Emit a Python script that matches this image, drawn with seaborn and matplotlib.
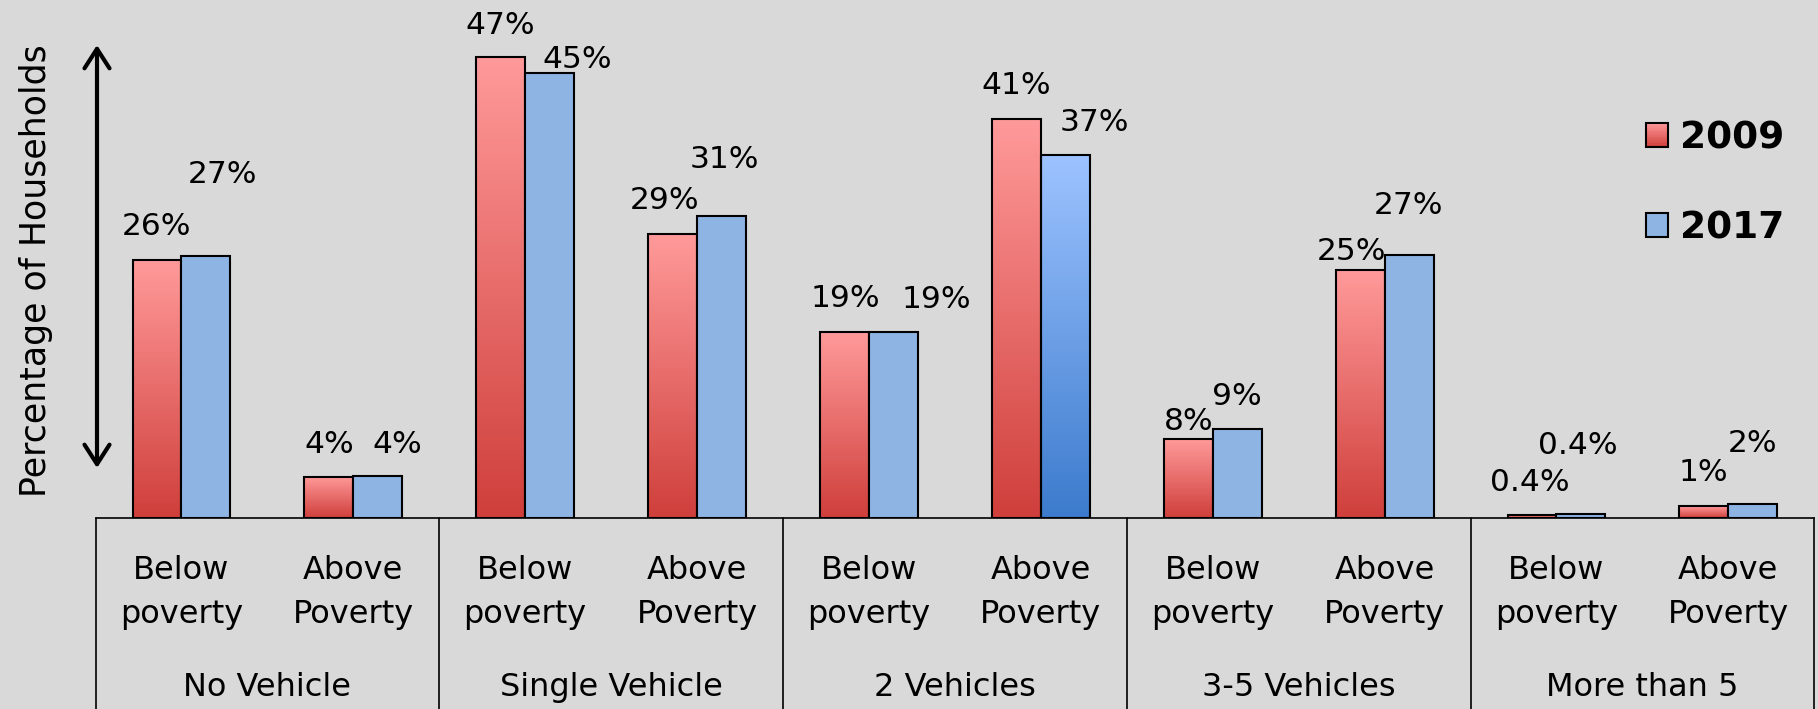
import numpy as np
import pandas as pd
import matplotlib
matplotlib.use("Agg")
import matplotlib.pyplot as plt
import seaborn as sns
from matplotlib.colors import to_rgb
from matplotlib.patches import Rectangle
from matplotlib.legend_handler import HandlerBase

# ---------------- data ----------------
groups = ["No Vehicle", "Single Vehicle", "2 Vehicles", "3-5 Vehicles", "More than 5"]
poverty = ["Below\npoverty", "Above\nPoverty"]
years = ["2009", "2017"]
values_2009 = [26.3, 4.2, 47.0, 28.9, 18.9, 40.7, 8.0, 25.3, 0.3, 1.2]
values_2017 = [26.7, 4.3, 45.4, 30.8, 18.9, 37.0, 9.1, 26.8, 0.4, 1.4]
labels_2009 = ["26%", "4%", "47%", "29%", "19%", "41%", "8%", "25%", "0.4%", "1%"]
labels_2017 = ["27%", "4%", "45%", "31%", "19%", "37%", "9%", "27%", "0.4%", "2%"]
y_label = "Percentage of Households"

# ---------------- style ----------------
W, H = 1818, 709
BG = "#d9d9d9"
RED_TOP, RED_BOT = np.array(to_rgb("#ff9a9a")), np.array(to_rgb("#cf3f3b"))
BLUE = "#8eb4e3"
BLUE_TOP, BLUE_BOT = np.array(to_rgb("#9dc3ff")), np.array(to_rgb("#3c7bcd"))
BLUE_GRADIENT_SLOTS = [5]
# label offsets in pixels (dx, dy of visual centre above bar top)
off_2009 = [(0, 35.5), (0, 35), (0, 34), (-8, 36.5), (1, 36), (0, 36), (0, 20), (-9, 21), (-2, 35), (0, 36)]
off_2017 = [(17, 84), (19, 34), (28, 16), (3, 58.5), (43, 35.5), (29, 35), (0, 35), (-1, 52), (-3, 71), (0, 63)]

sns.set_theme(style="white")
plt.rcParams["font.family"] = ["DejaVu Sans"]
plt.rcParams["text.color"] = "black"
plt.rcParams["axes.labelcolor"] = "black"

slots = [f"{g}|{p}" for g in groups for p in poverty]
df = pd.DataFrame({
    "slot": slots * 2,
    "year": [years[0]] * len(slots) + [years[1]] * len(slots),
    "value": values_2009 + values_2017,
})

fig = plt.figure(figsize=(W / 100, H / 100), dpi=100, facecolor=BG)
base_px = 517.7
ax = fig.add_axes([95.55 / W, (H - base_px) / H, 1718.75 / W, base_px / H])
ax.set_facecolor(BG)

sns.barplot(data=df, x="slot", y="value", hue="year", order=slots, hue_order=years,
            palette={years[0]: "#e8706c", years[1]: BLUE}, saturation=1,
            width=0.57, edgecolor="black", linewidth=1.5, legend=False, ax=ax)

PX_PER_PCT = 9.8
YMAX = base_px / PX_PER_PCT


def gradient_img(top, bot, n=256):
    t = np.linspace(0, 1, n)[:, None, None]
    return top[None, None, :] * (1 - t) + bot[None, None, :] * t


for ci, cont in enumerate(ax.containers):
    for j, bar in enumerate(cont):
        bar.set_zorder(3)
        if ci == 0:
            top, bot = RED_TOP, RED_BOT
        elif j in BLUE_GRADIENT_SLOTS:
            top, bot = BLUE_TOP, BLUE_BOT
        else:
            continue
        x, w, h = bar.get_x(), bar.get_width(), bar.get_height()
        ax.imshow(gradient_img(top, bot), extent=[x, x + w, 0, h], origin="upper",
                  aspect="auto", zorder=2, interpolation="bilinear")
        bar.set_facecolor("none")

# value labels
for ci, (labs, offs) in enumerate([(labels_2009, off_2009), (labels_2017, off_2017)]):
    for bar, lab, (dx, dy) in zip(ax.containers[ci], labs, offs):
        ax.annotate(lab, xy=(bar.get_x() + bar.get_width() / 2, bar.get_height()),
                    xytext=(dx, dy - 11), textcoords="offset pixels",
                    ha="center", va="baseline", fontsize=22.5, color="black", zorder=5)

ax.set_xlim(-0.5, len(slots) - 0.5)
ax.set_ylim(0, YMAX)
ax.set_xticks([])
ax.set_yticks([])
ax.set_xlabel("")
ax.set_ylabel("")
for s in ["left", "right", "top"]:
    ax.spines[s].set_visible(False)
ax.spines["bottom"].set_color("black")
ax.spines["bottom"].set_linewidth(1.2)

# category table lines
below_frac = (H - base_px) / base_px
for b in np.arange(-0.5, len(slots), 2):
    ax.axvline(b, ymin=-below_frac, ymax=0, color="black", lw=1.2, clip_on=False)

# sub-category labels
for i, s in enumerate(slots):
    ax.annotate(poverty[i % 2], xy=(i, 0), xycoords=("data", "axes fraction"),
                xytext=(0, -37), textcoords="offset pixels", ha="center", va="top",
                fontsize=23, linespacing=1.55, color="black", annotation_clip=False)
# group labels
for k, g in enumerate(groups):
    ax.annotate(g, xy=(2 * k + 0.5, 0), xycoords=("data", "axes fraction"),
                xytext=(0, -178), textcoords="offset pixels", ha="center", va="baseline",
                fontsize=23, color="black", annotation_clip=False)

# y label and double arrow
fig.text(36 / W, 1 - 271 / H, y_label, rotation=90, ha="center", va="center",
         fontsize=25, color="black")
fig.add_artist(matplotlib.patches.FancyArrowPatch(
    (97 / W, 1 - 468 / H), (97 / W, 1 - 45 / H), transform=fig.transFigure,
    arrowstyle="<->,head_length=0.7,head_width=0.45", mutation_scale=20,
    lw=3, color="black", shrinkA=0, shrinkB=0))


# legend with gradient handle
class GradHandler(HandlerBase):
    def __init__(self, top, bot):
        super().__init__()
        self.top, self.bot = top, bot

    def create_artists(self, legend, orig_handle, xdescent, ydescent, width, height, fontsize, trans):
        arts = []
        n = 14
        for i in range(n):
            t = (i + 0.5) / n
            c = self.top * (1 - t) + self.bot * t
            y0 = -ydescent + height * (1 - (i + 1) / n)
            arts.append(Rectangle((-xdescent, y0), width, height / n + 0.3, facecolor=c,
                                  edgecolor="none", transform=trans))
        arts.append(Rectangle((-xdescent, -ydescent), width, height, facecolor="none",
                              edgecolor="black", lw=1.5, transform=trans))
        return arts


h1, h2 = Rectangle((0, 0), 1, 1), Rectangle((0, 0), 1, 1)
blue_rgb = np.array(to_rgb(BLUE))
leg = ax.legend([h1, h2], years,
                handler_map={h1: GradHandler(RED_TOP, RED_BOT), h2: GradHandler(blue_rgb, blue_rgb)},
                loc="upper left", bbox_to_anchor=(1646 / W, 1 - 120.5 / H), bbox_transform=fig.transFigure,
                frameon=False, borderpad=0, borderaxespad=0, handlelength=0.59, handleheight=0.59,
                handletextpad=0.32, labelspacing=1.43, prop={"weight": "bold", "size": 27})
for t in leg.get_texts():
    t.set_color("black")

fig.savefig("out.png", dpi=100, facecolor=BG)
